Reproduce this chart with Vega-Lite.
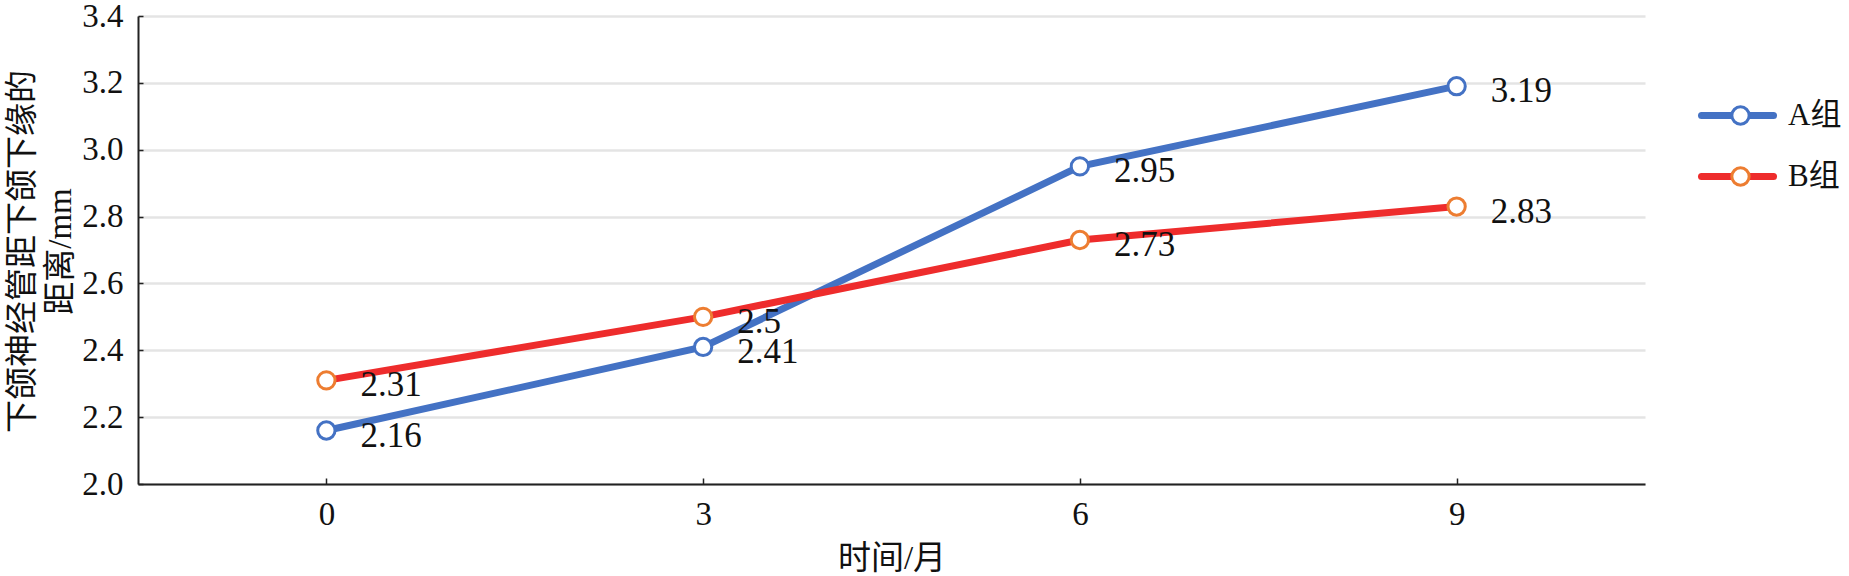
{
  "$schema": "https://vega.github.io/schema/vega-lite/v6.json",
  "width": 1507,
  "height": 468,
  "autosize": {"type": "none"},
  "padding": {"left": 138, "top": 16, "right": 204, "bottom": 92},
  "background": "white",
  "data": {
    "values": [
      {"month": "0", "group": "A组", "value": 2.16},
      {"month": "3", "group": "A组", "value": 2.41},
      {"month": "6", "group": "A组", "value": 2.95},
      {"month": "9", "group": "A组", "value": 3.19},
      {"month": "0", "group": "B组", "value": 2.31},
      {"month": "3", "group": "B组", "value": 2.5},
      {"month": "6", "group": "B组", "value": 2.73},
      {"month": "9", "group": "B组", "value": 2.83}
    ]
  },
  "config": {
    "view": {"stroke": null},
    "font": "Liberation Serif",
    "axis": {
      "labelFont": "Liberation Serif",
      "labelFontSize": 33,
      "labelColor": "#111111",
      "titleFont": "Liberation Serif, Noto Sans CJK SC",
      "titleFontSize": 33,
      "titleFontWeight": "normal",
      "titleColor": "#111111",
      "domainColor": "#222222",
      "domainWidth": 2,
      "tickColor": "#222222",
      "tickWidth": 1.5
    }
  },
  "encoding": {
    "x": {
      "field": "month",
      "type": "ordinal",
      "sort": ["0", "3", "6", "9"],
      "scale": {"type": "point", "padding": 0.5},
      "axis": {
        "title": "时间/月",
        "labelAngle": 0,
        "tickSize": -6,
        "labelPadding": 20,
        "titlePadding": 11,
        "grid": false
      }
    },
    "y": {
      "field": "value",
      "type": "quantitative",
      "scale": {"domain": [2.0, 3.4], "zero": false, "nice": false},
      "axis": {
        "values": [2.0, 2.2, 2.4, 2.6, 2.8, 3.0, 3.2, 3.4],
        "format": ".1f",
        "tickSize": -5,
        "labelPadding": 20,
        "grid": true,
        "gridColor": "#e4e4e4",
        "gridWidth": 2.5,
        "title": ["下颌神经管距下颌下缘的", "距离/mm"],
        "titleAngle": -90,
        "titleX": -116,
        "titleY": 235,
        "titleAlign": "center",
        "titleBaseline": "middle",
        "titleLineHeight": 38
      }
    }
  },
  "layer": [
    {
      "mark": {"type": "line", "strokeWidth": 7},
      "encoding": {
        "color": {
          "field": "group",
          "type": "nominal",
          "scale": {"domain": ["A组", "B组"], "range": ["#4472C4", "#EE2C2C"]},
          "legend": {
            "title": null,
            "orient": "none",
            "legendX": 1584,
            "legendY": 84,
            "padding": 0,
            "symbolType": "M-3.6,0H3.6",
            "symbolSize": 400,
            "symbolStrokeWidth": 7,
            "symbolFillColor": "transparent",
            "rowPadding": 29,
            "labelFont": "Liberation Serif, Noto Sans CJK SC",
            "labelFontSize": 31,
            "labelColor": "#111111",
            "labelOffset": 35,
            "encode": {"symbols": {"update": {"strokeCap": {"value": "round"}}}}
          }
        }
      }
    },
    {
      "mark": {"type": "point", "shape": "circle", "filled": false, "fill": "white", "fillOpacity": 1, "opacity": 1, "size": 300, "strokeWidth": 3},
      "encoding": {
        "stroke": {
          "field": "group",
          "type": "nominal",
          "scale": {"range": ["#4472C4", "#ED7D31"]},
          "legend": {
            "title": null,
            "orient": "none",
            "legendX": 1587,
            "legendY": 84,
            "padding": 0,
            "symbolType": "circle",
            "symbolSize": 300,
            "symbolFillColor": "white",
            "symbolStrokeWidth": 3,
            "labelFontSize": 31,
            "labelOpacity": 0,
            "rowPadding": 29
          }
        }
      }
    },
    {
      "mark": {"type": "text", "align": "left", "baseline": "middle", "dx": 34, "dy": 5, "font": "Liberation Serif", "fontSize": 35, "color": "#111111"},
      "encoding": {
        "text": {"field": "value", "type": "quantitative"}
      }
    }
  ]
}
